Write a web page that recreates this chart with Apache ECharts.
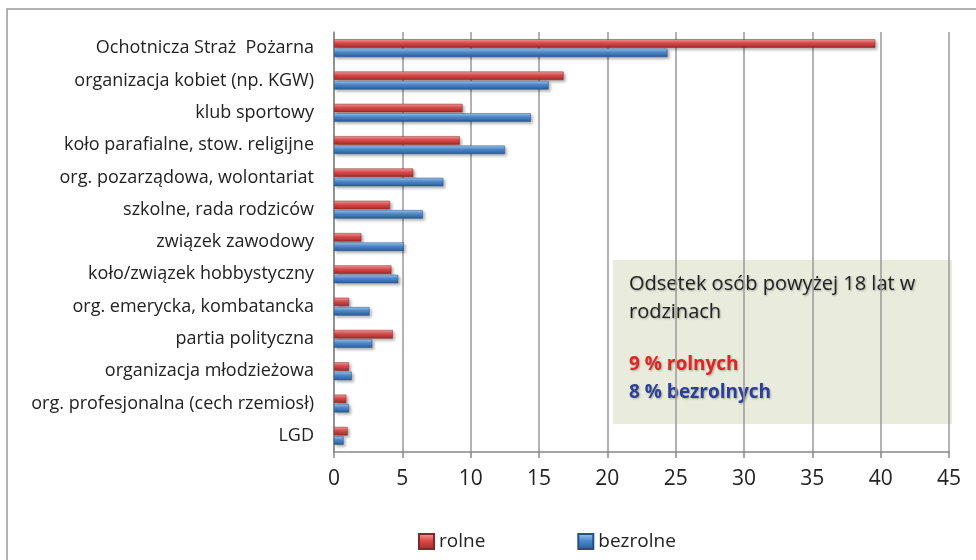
<!DOCTYPE html>
<html>
<head>
<meta charset="utf-8">
<script src="https://cdn.jsdelivr.net/npm/echarts@6/dist/echarts.min.js"></script>
<style>
  html, body { margin: 0; padding: 0; background: #fff; }
  #chart { width: 976px; height: 560px; }
</style>
</head>
<body>
<div id="chart"></div>
<script>
// kategorie (od góry)
let categories = [
  'Ochotnicza Straż  Pożarna',
  'organizacja kobiet (np. KGW)',
  'klub sportowy',
  'koło parafialne, stow. religijne',
  'org. pozarządowa, wolontariat',
  'szkolne, rada rodziców',
  'związek zawodowy',
  'koło/związek hobbystyczny',
  'org. emerycka, kombatancka',
  'partia polityczna',
  'organizacja młodzieżowa',
  'org. profesjonalna (cech rzemiosł)',
  'LGD'
];
let rolne = [39.6, 16.8, 9.4, 9.2, 5.8, 4.1, 2.0, 4.2, 1.1, 4.3, 1.1, 0.9, 1.0];
let bezrolne = [24.4, 15.7, 14.4, 12.5, 8.0, 6.5, 5.1, 4.7, 2.6, 2.8, 1.3, 1.1, 0.7];
let xTicks = [0, 45, 5];  // min, max, interval

(function () {
  let myChart = echarts.init(document.getElementById('chart'))
  let font = '"Open Sans", "Noto Sans", sans-serif'

  // gradient "walca" dla słupków
  function tube(light, mid, dark) {
    return new echarts.graphic.LinearGradient(0, 0, 0, 1, [
      { offset: 0, color: light },
      { offset: 0.45, color: mid },
      { offset: 1, color: dark }
    ])
  }

  // cień tekstu w polu opisu
  let shadow = {
    textShadowColor: 'rgba(0,0,0,0.3)',
    textShadowBlur: 2,
    textShadowOffsetX: 1,
    textShadowOffsetY: 1
  }

  let option = {
    animation: false,
    textStyle: { fontFamily: font },
    grid: {
      left: 334,
      top: 32,
      right: 27,
      bottom: 108
    },
    legend: {
      left: 413,
      top: 527,
      itemWidth: 15,
      itemHeight: 15,
      itemGap: 92,
      icon: 'rect',
      textStyle: { fontSize: 19, color: '#222', fontFamily: font },
      data: ['rolne', 'bezrolne']
    },
    xAxis: {
      type: 'value',
      min: xTicks[0],
      max: xTicks[1],
      interval: xTicks[2],
      axisLine: { show: true, lineStyle: { color: '#888', width: 1.5 } },
      axisTick: { show: true, length: 6, lineStyle: { color: '#888', width: 1.5 } },
      axisLabel: { color: '#222', fontSize: 21, margin: 17 },
      splitLine: { show: true, lineStyle: { color: '#999', width: 1.5 } }
    },
    yAxis: {
      type: 'category',
      inverse: true,
      data: categories,
      axisLine: { lineStyle: { color: '#888', width: 1.5 } },
      axisTick: { length: 5, lineStyle: { color: '#888', width: 1.5 } },
      axisLabel: { color: '#222', fontSize: 18, margin: 20 }
    },
    series: [
      {
        name: 'rolne',
        type: 'bar',
        data: rolne,
        barWidth: 8.5,
        barGap: '10%',
        itemStyle: {
          color: tube('#f5a3a3', '#de4a4a', '#9c2a2a'),
          borderColor: '#8a2525',
          borderWidth: 0.5,
          shadowColor: 'rgba(0,0,0,0.3)',
          shadowBlur: 3,
          shadowOffsetX: 2,
          shadowOffsetY: 2
        }
      },
      {
        name: 'bezrolne',
        type: 'bar',
        data: bezrolne,
        barWidth: 8.5,
        itemStyle: {
          color: tube('#a3cbf2', '#4d89cc', '#2a5997'),
          borderColor: '#24508a',
          borderWidth: 0.5,
          shadowColor: 'rgba(0,0,0,0.3)',
          shadowBlur: 3,
          shadowOffsetX: 2,
          shadowOffsetY: 2
        }
      }
    ],
    graphic: [
      // ramka wykresu
      {
        type: 'rect',
        shape: { x: 7, y: 9, width: 990, height: 580 },
        style: { fill: 'none', stroke: '#999', lineWidth: 1.5 },
        silent: true
      },
      // pole tekstowe
      {
        type: 'group',
        left: 613,
        top: 260,
        z: 100,
        children: [
          {
            type: 'rect',
            shape: { x: 0, y: 0, width: 339, height: 164 },
            style: { fill: '#e9ecdc' }
          },
          {
            type: 'text',
            x: 16, y: 10,
            style: Object.assign({
              text: 'Odsetek osób powyżej 18 lat w\nrodzinach',
              font: '20px ' + font,
              fill: '#222',
              lineHeight: 28
            }, shadow)
          },
          {
            type: 'text',
            x: 16, y: 95,
            style: Object.assign({
              text: '9 % rolnych',
              font: 'bold 19px ' + font,
              fill: '#e32424'
            }, shadow)
          },
          {
            type: 'text',
            x: 16, y: 123,
            style: Object.assign({
              text: '8 % bezrolnych',
              font: 'bold 19px ' + font,
              fill: '#2b3f99'
            }, shadow)
          }
        ]
      }
    ]
  }

  myChart.setOption(option)

  window.addEventListener('resize', function () {
    myChart.resize()
  })
})();
</script>
</body>
</html>
